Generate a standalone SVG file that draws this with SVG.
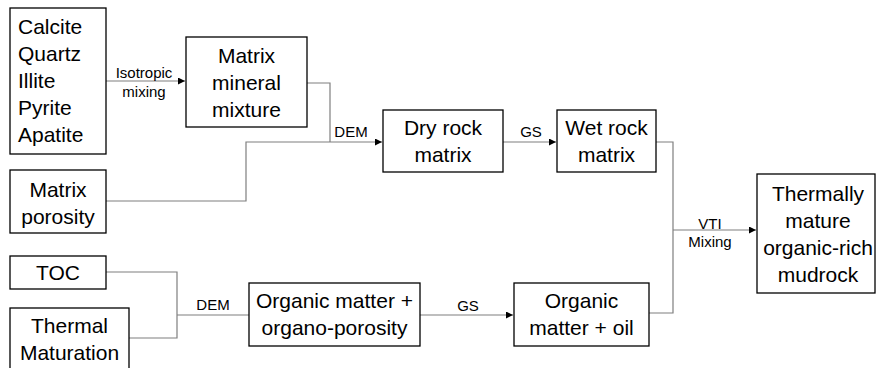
<svg xmlns="http://www.w3.org/2000/svg" width="876" height="368" viewBox="0 0 876 368">
<defs>
<style>
.box{fill:#fff;stroke:#000;stroke-width:1.3}
.t{font-family:"Liberation Sans",Arial,sans-serif;font-size:21px;fill:#000;text-anchor:middle}
.tl{font-family:"Liberation Sans",Arial,sans-serif;font-size:21px;fill:#000}
.lb{font-family:"Liberation Sans",Arial,sans-serif;font-size:15px;fill:#000;text-anchor:middle}
.c{fill:none;stroke:#7f7f7f;stroke-width:1.2}
</style>
<marker id="ah" viewBox="0 0 10 10" refX="10" refY="5" markerWidth="7" markerHeight="7" markerUnits="userSpaceOnUse" orient="auto">
<path d="M0,0 L10,5 L0,10 z" fill="#000"/>
</marker>
</defs>
<rect width="876" height="368" fill="#fff"/>
<g id="connectors">
<path class="c" d="M106,81 H185" marker-end="url(#ah)"/>
<path class="c" d="M307,83 H330 V142"/>
<path class="c" d="M106,201 H246 V142 H382" marker-end="url(#ah)"/>
<path class="c" d="M503,142 H556" marker-end="url(#ah)"/>
<path class="c" d="M656,142 H673 V313 H649"/>
<path class="c" d="M673,230 H756" marker-end="url(#ah)"/>
<path class="c" d="M106,272 H177 V338 H129"/>
<path class="c" d="M177,315 H249"/>
<path class="c" d="M420,315 H513" marker-end="url(#ah)"/>
<text class="lb" x="144" y="78">Isotropic</text>
<text class="lb" x="144" y="97">mixing</text>
<text class="lb" x="351" y="137">DEM</text>
<text class="lb" x="531" y="137">GS</text>
<text class="lb" x="710" y="229">VTI</text>
<text class="lb" x="710" y="247">Mixing</text>
<text class="lb" x="213" y="310">DEM</text>
<text class="lb" x="468" y="311">GS</text>
</g>
<g id="minerals">
<rect class="box" x="10" y="8" width="96" height="146"/>
<text class="tl" x="18" y="34">Calcite</text>
<text class="tl" x="18" y="61">Quartz</text>
<text class="tl" x="18" y="88">Illite</text>
<text class="tl" x="18" y="115">Pyrite</text>
<text class="tl" x="18" y="142">Apatite</text>
</g>
<g id="matrix-mineral-mixture">
<rect class="box" x="186" y="37" width="121" height="90"/>
<text class="t" x="246.5" y="63">Matrix</text>
<text class="t" x="246.5" y="90">mineral</text>
<text class="t" x="246.5" y="117">mixture</text>
</g>
<g id="matrix-porosity">
<rect class="box" x="10" y="170" width="96" height="63"/>
<text class="t" x="58" y="197">Matrix</text>
<text class="t" x="58" y="224">porosity</text>
</g>
<g id="dry-rock-matrix">
<rect class="box" x="383" y="110" width="120" height="62"/>
<text class="t" x="443" y="135">Dry rock</text>
<text class="t" x="443" y="162">matrix</text>
</g>
<g id="wet-rock-matrix">
<rect class="box" x="557" y="110" width="99" height="62"/>
<text class="t" x="606.5" y="135">Wet rock</text>
<text class="t" x="606.5" y="162">matrix</text>
</g>
<g id="thermally-mature">
<rect class="box" x="757" y="174" width="118" height="119"/>
<text class="t" x="818" y="201">Thermally</text>
<text class="t" x="818" y="228">mature</text>
<text class="t" x="818" y="255">organic-rich</text>
<text class="t" x="818" y="282">mudrock</text>
</g>
<g id="toc">
<rect class="box" x="10" y="256" width="96" height="33"/>
<text class="t" x="58" y="280">TOC</text>
</g>
<g id="thermal-maturation">
<rect class="box" x="10" y="308" width="119" height="70"/>
<text class="t" x="69.5" y="333">Thermal</text>
<text class="t" x="69.5" y="360">Maturation</text>
</g>
<g id="organic-matter-porosity">
<rect class="box" x="249" y="283" width="171" height="63"/>
<text class="t" x="334.5" y="308">Organic matter +</text>
<text class="t" x="334.5" y="335">organo-porosity</text>
</g>
<g id="organic-matter-oil">
<rect class="box" x="514" y="283" width="135" height="63"/>
<text class="t" x="581.5" y="308">Organic</text>
<text class="t" x="581.5" y="335">matter + oil</text>
</g>
</svg>
